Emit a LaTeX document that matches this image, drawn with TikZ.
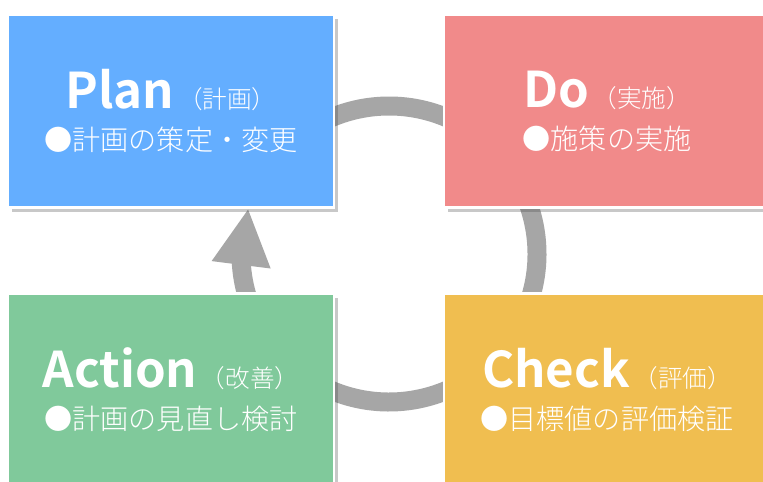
\documentclass[tikz,border=0pt]{standalone}
\usepackage{fontspec}
\setmainfont{Noto Sans CJK JP}
\newfontfamily\thinjp{Noto Sans CJK JP Light}
\usetikzlibrary{arrows.meta,bending,shadows}

\definecolor{planblue}{RGB}{100,174,255}
\definecolor{dored}{RGB}{241,138,138}
\definecolor{actgreen}{RGB}{128,201,155}
\definecolor{checkyellow}{RGB}{240,190,80}
\definecolor{ringgray}{RGB}{166,166,166}

\newcommand{\stagename}[2]{{\fontsize{28}{30}\selectfont\bfseries #1}\hspace{2pt}{\fontsize{14}{16}\selectfont\thinjp （#2）}}

\begin{document}
\begin{tikzpicture}[x=0.02cm, y=0.02cm,
  stage/.style={minimum width=6.52cm, minimum height=3.86cm, inner sep=0pt, align=center,
    text=white, draw=white, line width=1.2pt,
    node font=\fontsize{16}{24}\selectfont\thinjp,
    drop shadow={shadow xshift=2.5pt, shadow yshift=-2.5pt, opacity=0.3, fill=black!70}},
  ring/.style={draw=ringgray, line width=0.38cm, -{Triangle[width=1.1cm, length=1.14cm]}}]
\useasboundingbox (0,0) rectangle (763,481);
\fill[white] (0,0) rectangle (763,481);
\clip (0,0) rectangle (763,481);
\coordinate (hub) at (389,227);
\draw[ring] (hub) ++(140:148) arc[start angle=140, end angle=-198, radius=148];
\node[stage, fill=planblue] (plan) at (171,370) {\stagename{Plan}{計画}\\●計画の策定・変更};
\node[stage, fill=dored] (do) at (607,370) {\stagename{Do}{実施}\\●施策の実施};
\node[stage, fill=actgreen] (act) at (171,91) {\stagename{Action}{改善}\\●計画の見直し検討};
\node[stage, fill=checkyellow] (check) at (607,91) {\stagename{Check}{評価}\\●目標値の評価検証};
\end{tikzpicture}
\end{document}
